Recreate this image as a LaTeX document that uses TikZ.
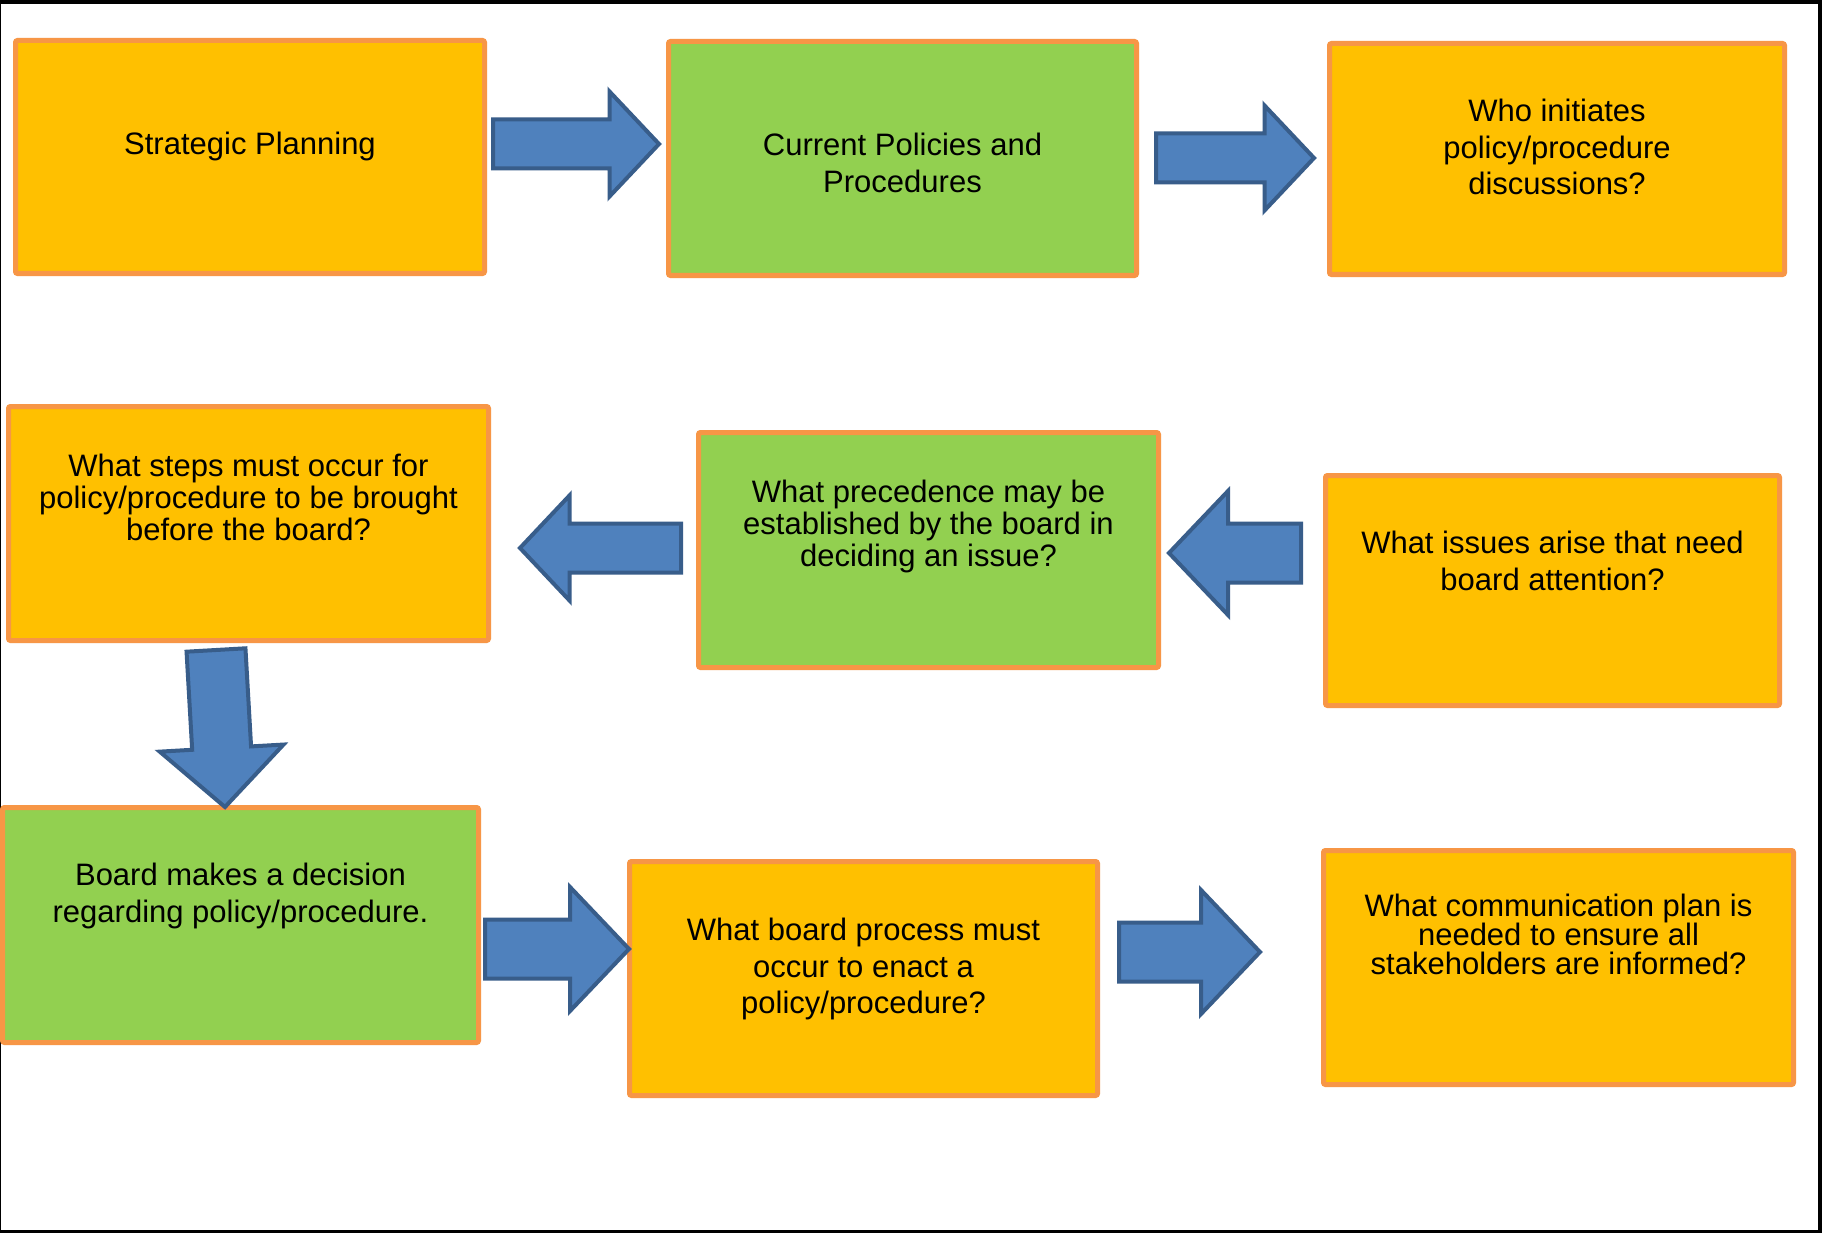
\documentclass[tikz,border=0pt]{standalone}
\usepackage{fontspec}
\setmainfont{Liberation Sans}
\usetikzlibrary{calc}

\definecolor{boxgold}{HTML}{FFC000}
\definecolor{boxgreen}{HTML}{92D050}
\definecolor{boxedge}{HTML}{F79646}
\definecolor{arrowfill}{HTML}{4F81BD}
\definecolor{arrowedge}{HTML}{385D8A}

\tikzset{
  box/.style={draw=boxedge, line width=5pt, rounded corners=2pt, inner sep=0pt},
  goldbox/.style={box, fill=boxgold},
  greenbox/.style={box, fill=boxgreen},
  boxtext/.style={align=center, inner sep=0pt, font=\fontsize{31}{36.5}\selectfont},
  blockarrow/.style n args={3}{fill=arrowfill, draw=arrowedge, line width=4pt, line join=miter,
    to path={($(\tikztostart)!#1!90:(\tikztotarget)$)
      -- ($(\tikztotarget)!#3!(\tikztostart)!#1!90:(\tikztotarget)$)
      -- ($(\tikztotarget)!#3!(\tikztostart)!#2!90:(\tikztotarget)$)
      -- (\tikztotarget)
      -- ($(\tikztotarget)!#3!(\tikztostart)!#2!-90:(\tikztotarget)$)
      -- ($(\tikztotarget)!#3!(\tikztostart)!#1!-90:(\tikztotarget)$)
      -- ($(\tikztostart)!#1!-90:(\tikztotarget)$) -- cycle}},
  smallarrow/.style={blockarrow={24.5pt}{52.5pt}{49.5pt}},
  bigarrow/.style={blockarrow={29.5pt}{62pt}{59pt}}
}

\begin{document}
\begin{tikzpicture}[x=1pt, y=-1pt]
    % 外框
    \useasboundingbox (0,0) rectangle (1822,1233);
    \fill[black] (0,0) rectangle (1822,1233);
    \fill[white] (1,4) rectangle (1818,1230);

    % 第一行方框
    \node[goldbox, minimum width=469pt, minimum height=233pt] (plan) at (250,157) {};
    \node[greenbox, minimum width=468pt, minimum height=234pt] (current) at (902.5,158.5) {};
    \node[goldbox, minimum width=455pt, minimum height=231pt] (who) at (1557,159) {};

    % 第二行方框
    \node[goldbox, minimum width=480pt, minimum height=234pt] (steps) at (248.5,523.5) {};
    \node[greenbox, minimum width=460pt, minimum height=235pt] (prec) at (928.5,550) {};
    \node[goldbox, minimum width=454pt, minimum height=230pt] (issues) at (1552.5,590.5) {};

    % 第三行方框
    \node[greenbox, minimum width=476pt, minimum height=235pt] (decide) at (240.5,925) {};
    \node[goldbox, minimum width=468pt, minimum height=234pt] (enact) at (863.5,978.5) {};
    \node[goldbox, minimum width=470pt, minimum height=234pt] (comm) at (1558.5,967.5) {};

    % 方框中的文字
    \node[boxtext] (planT) at (250,146) {Strategic Planning};
    \node[boxtext] (currentT) at (902.5,163) {Current Policies and\\Procedures};
    \node[boxtext] (whoT) at (1557,147) {Who initiates\\policy/procedure\\discussions?};
    \node[boxtext, font=\fontsize{31}{32}\selectfont] (stepsT) at (248.5,497)
        {What steps must occur for\\policy/procedure to be brought\\before the board?};
    \node[boxtext, font=\fontsize{31}{32}\selectfont] (precT) at (928.5,526)
        {What precedence may be\\established by the board in\\deciding an issue?};
    \node[boxtext] (issuesT) at (1552.5,561) {What issues arise that need\\board attention?};
    \node[boxtext] (decideT) at (240.5,896) {Board makes a decision\\regarding policy/procedure.};
    \node[boxtext] (enactT) at (863.5,969) {What board process must\\occur to enact a\\policy/procedure?};
    \node[boxtext, font=\fontsize{31}{29}\selectfont] (commT) at (1558.5,934)
        {What communication plan is\\needed to ensure all\\stakeholders are informed?};

    % 箭头的起点和终点
    \coordinate (a1s) at (493,144);
    \coordinate (a1e) at (659,144);
    \coordinate (a2s) at (1156,158);
    \coordinate (a2e) at (1314,158);
    \coordinate (a3s) at (681,548);
    \coordinate (a3e) at (520,548);
    \coordinate (a4s) at (1301,553);
    \coordinate (a4e) at (1169,553);
    \coordinate (a5s) at (216,650);
    \coordinate (a5e) at (225,807);
    \coordinate (a6s) at (485,949);
    \coordinate (a6e) at (629,949);
    \coordinate (a7s) at (1119,952);
    \coordinate (a7e) at (1260,952);

    % 绘制箭头
    \draw[smallarrow] (a1s) to (a1e);
    \draw[smallarrow] (a2s) to (a2e);
    \draw[smallarrow] (a3s) to (a3e);
    \draw[bigarrow] (a4s) to (a4e);
    \draw[bigarrow] (a5s) to (a5e);
    \draw[bigarrow] (a6s) to (a6e);
    \draw[bigarrow] (a7s) to (a7e);
\end{tikzpicture}
\end{document}
